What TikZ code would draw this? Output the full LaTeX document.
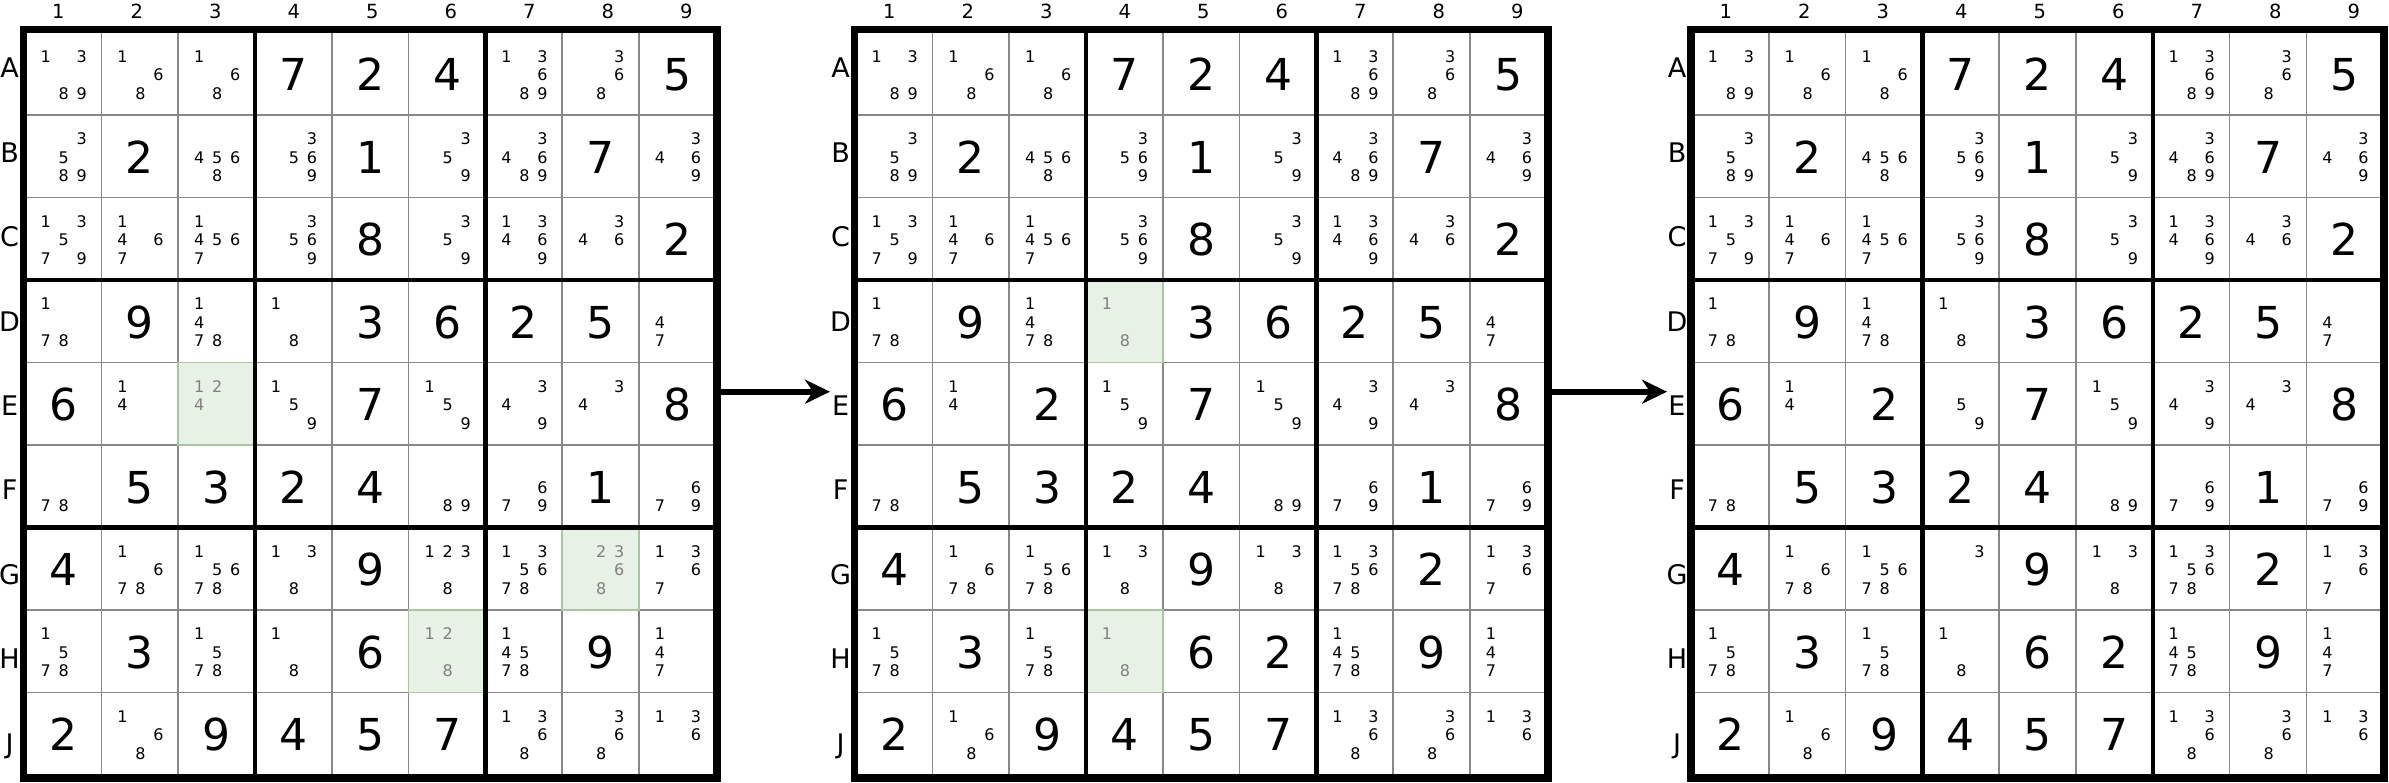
\documentclass[tikz,border=0pt]{standalone}
\usepackage{fontspec}
\setmainfont{DejaVu Sans}
\usetikzlibrary{arrows.meta}
\definecolor{GridClr}{RGB}{136,136,136}
\definecolor{MarkClr}{RGB}{232,241,229}
\definecolor{MarkEdgeClr}{RGB}{172,196,162}
\definecolor{FadeClr}{RGB}{128,128,128}

\newcommand\CellW{76.8}
\newcommand\CellH{82.5}
\newcommand\GridTop{32.5}

% =d given digit, *... marked cell, otherwise candidates
\newcommand\FirstGrid{%
{1389,168,168,=7,=2,=4,13689,368,=5},
{3589,=2,4568,3569,=1,359,34689,=7,3469},
{13579,1467,14567,3569,=8,359,13469,346,=2},
{178,=9,1478,18,=3,=6,=2,=5,47},
{=6,14,*124,159,=7,159,349,34,=8},
{78,=5,=3,=2,=4,89,679,=1,679},
{=4,1678,15678,138,=9,1238,135678,*2368,1367},
{1578,=3,1578,18,=6,*128,14578,=9,147},
{=2,168,=9,=4,=5,=7,1368,368,136}}
\newcommand\SecondGrid{%
{1389,168,168,=7,=2,=4,13689,368,=5},
{3589,=2,4568,3569,=1,359,34689,=7,3469},
{13579,1467,14567,3569,=8,359,13469,346,=2},
{178,=9,1478,*18,=3,=6,=2,=5,47},
{=6,14,=2,159,=7,159,349,34,=8},
{78,=5,=3,=2,=4,89,679,=1,679},
{=4,1678,15678,138,=9,138,135678,=2,1367},
{1578,=3,1578,*18,=6,=2,14578,=9,147},
{=2,168,=9,=4,=5,=7,1368,368,136}}
\newcommand\ThirdGrid{%
{1389,168,168,=7,=2,=4,13689,368,=5},
{3589,=2,4568,3569,=1,359,34689,=7,3469},
{13579,1467,14567,3569,=8,359,13469,346,=2},
{178,=9,1478,18,=3,=6,=2,=5,47},
{=6,14,=2,59,=7,159,349,34,=8},
{78,=5,=3,=2,=4,89,679,=1,679},
{=4,1678,15678,3,=9,138,135678,=2,1367},
{1578,=3,1578,18,=6,=2,14578,=9,147},
{=2,168,=9,=4,=5,=7,1368,368,136}}

\makeatletter
\def\PutCell#1#2#3#4{\edef\sud@tmp{\noexpand\sud@cell{#1}{#2}{#3}#4\noexpand\relax}\sud@tmp}
\def\sud@cell#1#2#3#4#5\relax{%
  \pgfmathsetmacro\CellX{#1+#3*\CellW}%
  \pgfmathsetmacro\CellY{\GridTop+#2*\CellH}%
  \ifx=#4%
    \node[given] at ({\CellX+0.5*\CellW},{\CellY+0.5*\CellH+1}) {#5};%
  \else
    \ifx*#4%
      \filldraw[fill=MarkClr,draw=MarkEdgeClr,line width=1.5pt] (\CellX,\CellY) rectangle ++(\CellW,\CellH);%
      \sud@cands{#5}{FadeClr}%
    \else
      \sud@cands{#4#5}{black}%
    \fi
  \fi}
\def\sud@cands#1#2{%
  \foreach \cand in {1,...,9}{%
    \edef\sud@tmp{\noexpand\in@{\cand}{#1}}\sud@tmp
    \ifin@
      \node[cand,#2] at ({\CellX+21+18*mod(\cand-1,3)},{\CellY+24+18.5*int((\cand-1)/3)}) {\cand};%
    \fi}}
\newcommand\DrawSudoku[2]{%
  \foreach \k in {1,2,4,5,7,8}{%
    \draw[thinline] ({#1+\k*\CellW},\GridTop) -- ++(0,{9*\CellH});
    \draw[thinline] (#1,{\GridTop+\k*\CellH}) -- ++({9*\CellW},0);}
  \foreach \rowdata [count=\rowidx from 0] in #2{%
    \foreach \cell [count=\colidx from 0] in \rowdata{\PutCell{#1}{\rowidx}{\colidx}{\cell}}}
  \foreach \k in {3,6}{%
    \draw[boxline] ({#1+\k*\CellW},\GridTop) -- ++(0,{9*\CellH});
    \draw[boxline] (#1,{\GridTop+\k*\CellH}) -- ++({9*\CellW},0);}
  \draw[frameline] ({#1-1},29.5) rectangle ({#1+9*\CellW+1},778);
  \foreach \n in {1,...,9}
    \node[collabel] at ({#1+33.7+78.5*(\n-1)},11) {\n};
  \foreach \lab [count=\rowidx from 0] in {A,B,C,D,E,F,G,H,J}
    \node[rowlabel] at ({#1-15},{68+84.4*\rowidx}) {\lab};}
\makeatother

\tikzset{
  thinline/.style={GridClr,line width=1.5pt},
  boxline/.style={black,line width=4.5pt},
  frameline/.style={black,line width=7.5pt},
  given/.style={inner sep=0pt,text height=32pt,text depth=0pt,font=\fontsize{44}{44}\selectfont},
  cand/.style={inner sep=0pt,text height=11.7pt,text depth=0pt,font=\fontsize{16}{16}\selectfont},
  collabel/.style={inner sep=0pt,text height=14.2pt,text depth=0pt,font=\fontsize{19.5}{20}\selectfont},
  rowlabel/.style={inner sep=0pt,text height=19.7pt,text depth=0pt,font=\fontsize{27}{27}\selectfont},
  steparrow/.style={line width=6pt,-{Stealth[length=25pt,width=24pt,inset=8pt]}}
}

\begin{document}
\begin{tikzpicture}[x=1pt,y=-1pt]
\useasboundingbox (0,0) rectangle (2389,782);

\DrawSudoku{24.6}{\FirstGrid}
\DrawSudoku{855.6}{\SecondGrid}
\DrawSudoku{1692}{\ThirdGrid}

\coordinate (FirstOut) at (720,391.7);
\coordinate (SecondIn) at (830,391.7);
\coordinate (SecondOut) at (1552,391.7);
\coordinate (ThirdIn) at (1667,391.7);

\draw[steparrow] (FirstOut) -- (SecondIn);
\draw[steparrow] (SecondOut) -- (ThirdIn);

\end{tikzpicture}
\end{document}
